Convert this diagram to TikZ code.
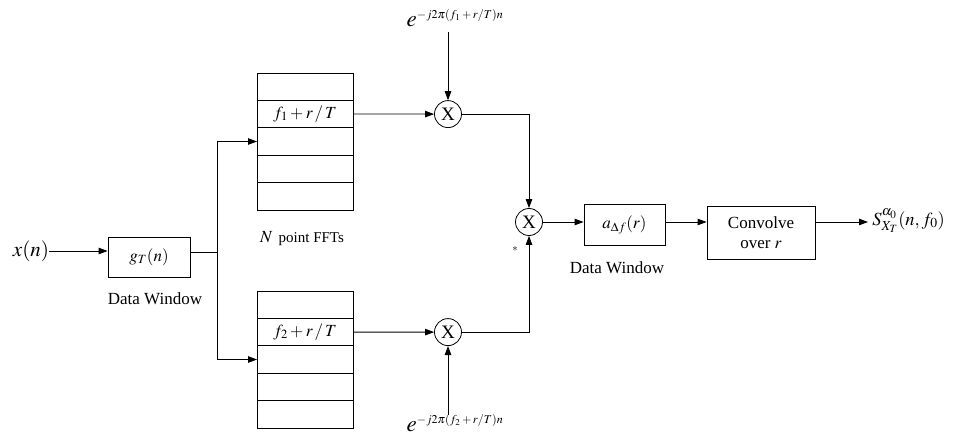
\documentclass[tikz,border=0pt]{standalone}
\usepackage{mathptmx}
\usepackage{fontspec}
\setmainfont{Liberation Serif}
\usetikzlibrary{arrows.meta,positioning}
\begin{document}
\begin{tikzpicture}[x=1pt,y=-1pt,
  line width=0.8pt,
  every node/.style={font=\fontsize{17}{20}\selectfont},
  arr/.style={-{Triangle[length=9pt,width=6.5pt]}},
  blk/.style={draw,rectangle,inner sep=0pt},
  cell/.style={draw,rectangle,minimum width=96pt,minimum height=27.4pt,inner sep=0pt,outer sep=0pt},
  mult/.style={draw,circle,minimum size=27pt,inner sep=0pt,font=\fontsize{19}{20}\selectfont},
  lbl/.style={inner sep=0pt},
  expo/.style={inner sep=0pt,font=\fontsize{23}{24}\selectfont}]
\useasboundingbox (0,0) rectangle (953,438);

% input and data window
\node[lbl,font=\fontsize{21}{24}\selectfont] (xn) at (31,251) {$x(n)$};
\node[blk,minimum width=82pt,minimum height=40pt] (g) at (149,257) {$g_T(n)$};
\node[lbl] (dw1) at (155,299) {Data Window};
\coordinate (split) at (217,252);

% upper FFT block
\node[cell] (u1) at (305,86.7) {};
\node[cell,below=0pt of u1] (u2) {$f_1+r\,/\,T$};
\node[cell,below=0pt of u2] (u3) {};
\node[cell,below=0pt of u3] (u4) {};
\node[cell,below=0pt of u4] (u5) {};

% lower FFT block
\node[cell] (l1) at (305,304.7) {};
\node[cell,below=0pt of l1] (l2) {$f_2+r\,/\,T$};
\node[cell,below=0pt of l2] (l3) {};
\node[cell,below=0pt of l3] (l4) {};
\node[cell,below=0pt of l4] (l5) {};

\node[lbl,font=\fontsize{15}{18}\selectfont] (nfft) at (302,239) {{\fontsize{17}{18}\selectfont$N$}\, point FFTs};

% multipliers
\node[mult] (m1) at (448,114.1) {X};
\node[mult] (m2) at (448,332.1) {X};
\node[mult] (m3) at (529,222) {X};

\node[expo] (e1) at (455,18) {$e^{\mbox{\fontsize{12}{13}\selectfont$-j2\pi(f_1+r/T)n$}}$};
\node[expo] (e2) at (455,423) {$e^{\mbox{\fontsize{12}{13}\selectfont$-j2\pi(f_2+r/T)n$}}$};
\coordinate (e1a) at (448,32);
\coordinate (e2a) at (448,415);
\node[lbl,font=\fontsize{11}{12}\selectfont] (star) at (515,249) {$*$};

% later stages
\node[blk,minimum width=81pt,minimum height=41pt] (a) at (624.5,225) {$a_{\Delta f}(r)$};
\node[lbl] (dw2) at (617,268) {Data Window};
\node[blk,minimum width=108pt,minimum height=53pt,align=center] (conv) at (761,232.5) {Convolve\\over $r$};
\coordinate (outend) at (868,222);
\node[lbl,anchor=west,font=\fontsize{18.5}{20}\selectfont] (out) at (872,221) {$S^{\alpha_0}_{X_T}(n,f_0)$};

% connectors
\draw[arr] (xn.east) -- (g.west |- xn);
\draw (g.east |- split) -- (split);
\draw (split |- u3.west) -- (split |- l3.west);
\draw[arr] (split |- u3.west) -- (u3.west);
\draw[arr] (split |- l3.west) -- (l3.west);
\draw[arr] (u2.east) -- (m1.west);
\draw[arr] (l2.east) -- (m2.west);
\draw[arr] (e1a) -- (m1.north);
\draw[arr] (e2a) -- (m2.south);
\draw[arr] (m1.east) -| (m3.north);
\draw[arr] (m2.east) -| (m3.south);
\draw[arr] (m3.east) -- (a.west |- m3);
\draw[arr] (a.east |- m3) -- (conv.west |- m3);
\draw[arr] (conv.east |- m3) -- (outend);
\end{tikzpicture}
\end{document}
